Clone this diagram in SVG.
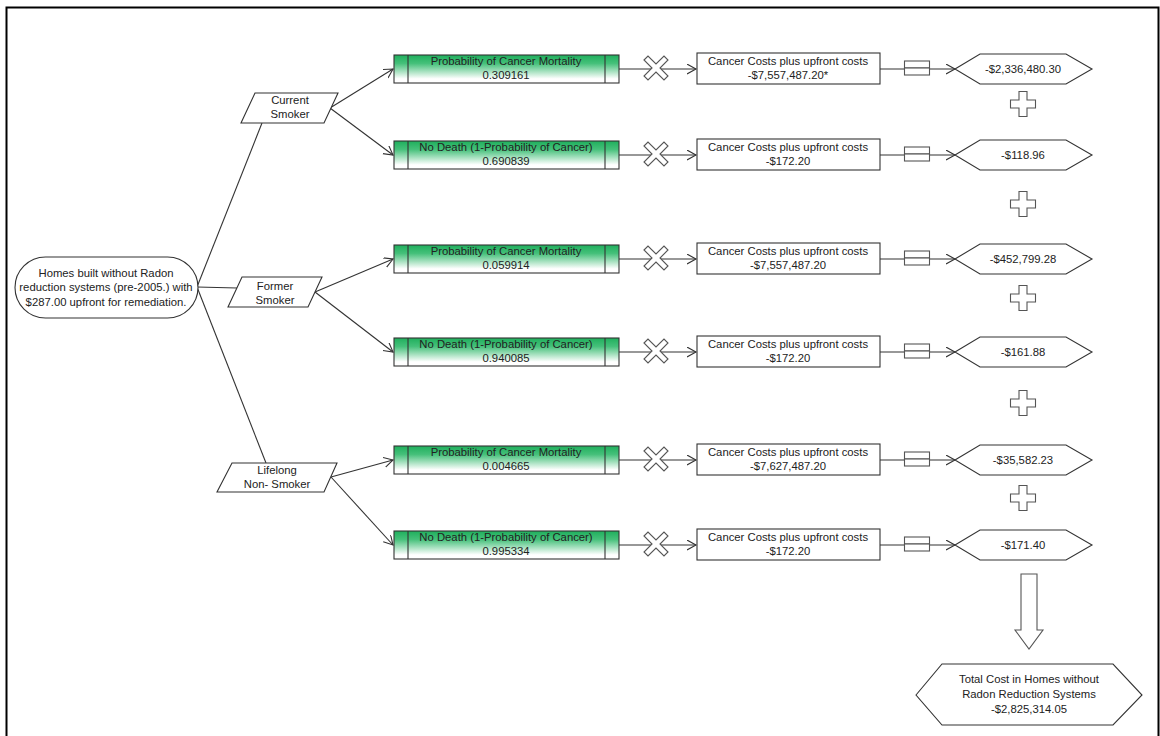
<svg xmlns="http://www.w3.org/2000/svg" width="1160" height="736" viewBox="0 0 1160 736">
<defs>
<linearGradient id="g" x1="0" y1="0" x2="0" y2="1">
<stop offset="0" stop-color="#1faf5c"/>
<stop offset="0.3" stop-color="#45c07a"/>
<stop offset="0.85" stop-color="#ffffff"/>
<stop offset="1" stop-color="#ffffff"/>
</linearGradient>
<marker id="a" markerUnits="userSpaceOnUse" markerWidth="12" markerHeight="12" refX="9" refY="5" orient="auto">
<path d="M0,0 L9,5 L0,10" fill="none" stroke="#333" stroke-width="1.1"/>
</marker>
<polygon id="xs" points="-12,-8 -8,-12 0,-4 8,-12 12,-8 4,0 12,8 8,12 0,4 -8,12 -12,8 -4,0"/>
<polygon id="ps" points="-4,-12.5 4,-12.5 4,-4 12.5,-4 12.5,4 4,4 4,12.5 -4,12.5 -4,4 -12.5,4 -12.5,-4 -4,-4"/>
<g id="eq"><rect x="-12.5" y="-7" width="25" height="7"/><rect x="-12.5" y="0" width="25" height="7"/></g>
</defs>
<style>
text{font-family:"Liberation Sans",Arial,sans-serif;font-size:11.3px;fill:#222;text-anchor:middle}
.c{fill:none;stroke:#333;stroke-width:1.1}
.n{fill:#fff;stroke:#333;stroke-width:1.1}
.gb{fill:url(#g);stroke:#333;stroke-width:1.1}
.sym{fill:#fff;stroke:#555;stroke-width:1.1}
</style>
<rect width="1160" height="736" fill="#fff"/>
<path d="M6.5,736 V7.5 H1158.5 V736" fill="none" stroke="#000" stroke-width="2"/>

<g id="connectors">
<line class="c" x1="197" y1="287" x2="262" y2="123"/>
<line class="c" x1="197" y1="287" x2="237" y2="288"/>
<line class="c" x1="197" y1="287" x2="266" y2="463"/>
<line class="c" x1="330" y1="108" x2="393" y2="69" marker-end="url(#a)"/>
<line class="c" x1="330" y1="108" x2="393" y2="155" marker-end="url(#a)"/>
<line class="c" x1="315" y1="292" x2="393" y2="259" marker-end="url(#a)"/>
<line class="c" x1="315" y1="292" x2="393" y2="352" marker-end="url(#a)"/>
<line class="c" x1="331" y1="477" x2="393" y2="460" marker-end="url(#a)"/>
<line class="c" x1="331" y1="477" x2="393" y2="545" marker-end="url(#a)"/>
<line class="c" x1="619" y1="69" x2="696" y2="69" marker-end="url(#a)"/>
<line class="c" x1="619" y1="155" x2="696" y2="155" marker-end="url(#a)"/>
<line class="c" x1="619" y1="259" x2="696" y2="259" marker-end="url(#a)"/>
<line class="c" x1="619" y1="352" x2="696" y2="352" marker-end="url(#a)"/>
<line class="c" x1="619" y1="460" x2="696" y2="460" marker-end="url(#a)"/>
<line class="c" x1="619" y1="545" x2="696" y2="545" marker-end="url(#a)"/>
<line class="c" x1="880" y1="69" x2="955" y2="69" marker-end="url(#a)"/>
<line class="c" x1="880" y1="155" x2="955" y2="155" marker-end="url(#a)"/>
<line class="c" x1="880" y1="259" x2="955" y2="259" marker-end="url(#a)"/>
<line class="c" x1="880" y1="352" x2="955" y2="352" marker-end="url(#a)"/>
<line class="c" x1="880" y1="460" x2="955" y2="460" marker-end="url(#a)"/>
<line class="c" x1="880" y1="545" x2="955" y2="545" marker-end="url(#a)"/>
</g>

<g id="root">
<rect class="n" x="15" y="257" width="183" height="61" rx="30.5"/>
<text x="106" y="277">Homes built without Radon</text>
<text x="106" y="291">reduction systems (pre-2005.) with</text>
<text x="106" y="306">$287.00 upfront for remediation.</text>
</g>

<g id="current-smoker">
<polygon class="n" points="255,93 338,93 324,123 241,123"/>
<text x="290" y="104">Current</text>
<text x="290" y="118">Smoker</text>
</g>
<g id="former-smoker">
<polygon class="n" points="242,277 322,277 308,307 228,307"/>
<text x="275" y="290">Former</text>
<text x="275" y="304">Smoker</text>
</g>
<g id="lifelong-non-smoker">
<polygon class="n" points="232,463 337,463 324,492 217,492"/>
<text x="277" y="474">Lifelong</text>
<text x="277" y="488">Non- Smoker</text>
</g>

<g id="prob1">
<rect class="gb" x="394" y="55" width="225" height="28"/>
<line class="c" x1="408" y1="55" x2="408" y2="83"/><line class="c" x1="605" y1="55" x2="605" y2="83"/>
<text x="506" y="65">Probability of Cancer Mortality</text>
<text x="506" y="79">0.309161</text>
</g>
<g id="prob2">
<rect class="gb" x="394" y="141" width="225" height="28"/>
<line class="c" x1="408" y1="141" x2="408" y2="169"/><line class="c" x1="605" y1="141" x2="605" y2="169"/>
<text x="506" y="151">No Death (1-Probability of Cancer)</text>
<text x="506" y="165">0.690839</text>
</g>
<g id="prob3">
<rect class="gb" x="394" y="245" width="225" height="28"/>
<line class="c" x1="408" y1="245" x2="408" y2="273"/><line class="c" x1="605" y1="245" x2="605" y2="273"/>
<text x="506" y="255">Probability of Cancer Mortality</text>
<text x="506" y="269">0.059914</text>
</g>
<g id="prob4">
<rect class="gb" x="394" y="338" width="225" height="28"/>
<line class="c" x1="408" y1="338" x2="408" y2="366"/><line class="c" x1="605" y1="338" x2="605" y2="366"/>
<text x="506" y="348">No Death (1-Probability of Cancer)</text>
<text x="506" y="362">0.940085</text>
</g>
<g id="prob5">
<rect class="gb" x="394" y="446" width="225" height="28"/>
<line class="c" x1="408" y1="446" x2="408" y2="474"/><line class="c" x1="605" y1="446" x2="605" y2="474"/>
<text x="506" y="456">Probability of Cancer Mortality</text>
<text x="506" y="470">0.004665</text>
</g>
<g id="prob6">
<rect class="gb" x="394" y="531" width="225" height="28"/>
<line class="c" x1="408" y1="531" x2="408" y2="559"/><line class="c" x1="605" y1="531" x2="605" y2="559"/>
<text x="506" y="541">No Death (1-Probability of Cancer)</text>
<text x="506" y="555">0.995334</text>
</g>

<g id="times-symbols" class="sym">
<use href="#xs" x="656" y="68"/>
<use href="#xs" x="656" y="154"/>
<use href="#xs" x="656" y="258"/>
<use href="#xs" x="656" y="351"/>
<use href="#xs" x="656" y="459"/>
<use href="#xs" x="656" y="544"/>
</g>

<g id="cost1"><rect class="n" x="697" y="53" width="183" height="31"/>
<text x="788" y="65">Cancer Costs plus upfront costs</text><text x="788" y="79">-$7,557,487.20*</text></g>
<g id="cost2"><rect class="n" x="697" y="139" width="183" height="31"/>
<text x="788" y="151">Cancer Costs plus upfront costs</text><text x="788" y="165">-$172.20</text></g>
<g id="cost3"><rect class="n" x="697" y="243" width="183" height="31"/>
<text x="788" y="255">Cancer Costs plus upfront costs</text><text x="788" y="269">-$7,557,487.20</text></g>
<g id="cost4"><rect class="n" x="697" y="336" width="183" height="31"/>
<text x="788" y="348">Cancer Costs plus upfront costs</text><text x="788" y="362">-$172.20</text></g>
<g id="cost5"><rect class="n" x="697" y="444" width="183" height="31"/>
<text x="788" y="456">Cancer Costs plus upfront costs</text><text x="788" y="470">-$7,627,487.20</text></g>
<g id="cost6"><rect class="n" x="697" y="529" width="183" height="31"/>
<text x="788" y="541">Cancer Costs plus upfront costs</text><text x="788" y="555">-$172.20</text></g>

<g id="equals-symbols" class="sym">
<use href="#eq" x="917" y="68"/>
<use href="#eq" x="917" y="154"/>
<use href="#eq" x="917" y="258"/>
<use href="#eq" x="917" y="351"/>
<use href="#eq" x="917" y="459"/>
<use href="#eq" x="917" y="544"/>
</g>

<g id="result1"><polygon class="n" points="955,69 980,54 1066,54 1092,69 1066,84 980,84"/><text x="1023" y="73">-$2,336,480.30</text></g>
<g id="result2"><polygon class="n" points="955,155 980,140 1066,140 1092,155 1066,170 980,170"/><text x="1023" y="159">-$118.96</text></g>
<g id="result3"><polygon class="n" points="955,259 980,244 1066,244 1092,259 1066,274 980,274"/><text x="1023" y="263">-$452,799.28</text></g>
<g id="result4"><polygon class="n" points="955,352 980,337 1066,337 1092,352 1066,367 980,367"/><text x="1023" y="356">-$161.88</text></g>
<g id="result5"><polygon class="n" points="955,460 980,445 1066,445 1092,460 1066,475 980,475"/><text x="1023" y="464">-$35,582.23</text></g>
<g id="result6"><polygon class="n" points="955,545 980,530 1066,530 1092,545 1066,560 980,560"/><text x="1023" y="549">-$171.40</text></g>

<g id="plus-symbols" class="sym">
<use href="#ps" x="1023" y="104"/>
<use href="#ps" x="1023" y="204"/>
<use href="#ps" x="1023" y="298"/>
<use href="#ps" x="1023" y="403"/>
<use href="#ps" x="1023" y="498"/>
</g>

<g id="down-arrow">
<polygon class="sym" points="1021,574 1037,574 1037,630 1043,630 1029,649 1015,630 1021,630"/>
</g>

<g id="total">
<polygon class="n" points="916,695 942,664 1113,664 1142,695 1113,725 942,725"/>
<text x="1029" y="683">Total Cost in Homes without</text>
<text x="1029" y="698">Radon Reduction Systems</text>
<text x="1029" y="713">-$2,825,314.05</text>
</g>
</svg>
